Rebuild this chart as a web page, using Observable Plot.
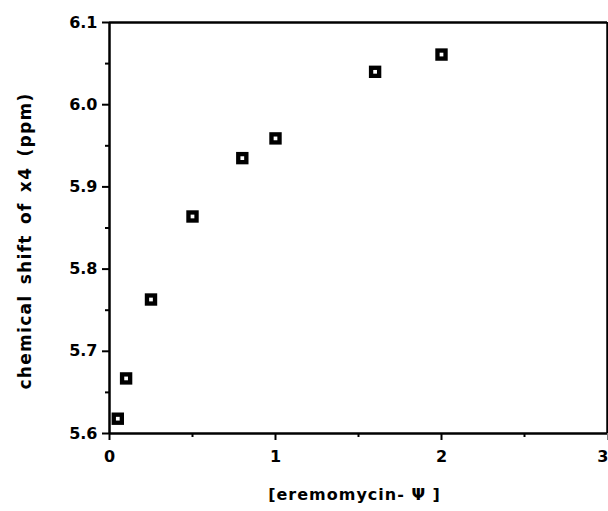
<!DOCTYPE html>
<html>
<head>
<meta charset="utf-8">
<script src="https://cdn.jsdelivr.net/npm/d3@7"></script>
<script src="https://cdn.jsdelivr.net/npm/@observablehq/plot@0.6"></script>
<style>
  html, body { margin: 0; padding: 0; background: #fff; }
  svg { display: block; }
  .ylab text { letter-spacing: 1.3px; word-spacing: 3px; }
  .xlab text { letter-spacing: 1px; }
</style>
</head>
<body>
<div id="chart"></div>
<script>
const concentration = [0.05, 0.10, 0.25, 0.50, 0.80, 1.00, 1.60, 2.00];
const chemicalShift = [5.618, 5.667, 5.763, 5.864, 5.935, 5.959, 6.040, 6.061];
const xMajorTicks = [0, 1, 2];
const xLastTick = [3];
const xMinorTicks = [0.5, 1.5, 2.5];
const yMajorTicks = [5.6, 5.7, 5.8, 5.9, 6.0, 6.1];
const yMinorTicks = [5.65, 5.75, 5.85, 5.95, 6.05];
const xLabel = "[eremomycin- \u03A8 ]";
const yLabel = "chemical shift of x4 (ppm)";

const data = concentration.map((c, i) => ({x: c, y: chemicalShift[i]}));
const font = "'DejaVu Sans', Verdana, sans-serif";

const chart = Plot.plot({
  width: 608,
  height: 511,
  marginLeft: 109,
  marginRight: 1,
  marginTop: 22,
  marginBottom: 78,
  style: {fontFamily: font, fontSize: "16px", fontWeight: "bold", color: "#000", background: "#fff"},
  x: {domain: [0, 3]},
  y: {domain: [5.6, 6.1]},
  marks: [
    Plot.ruleX([0, 3], {stroke: "#000", strokeWidth: 2.5}),
    Plot.ruleY([5.6, 6.1], {stroke: "#000", strokeWidth: 2.5}),
    Plot.axisX({ticks: xMajorTicks, tickSize: 7, tickPadding: 10, strokeWidth: 2, tickFormat: d => String(d), label: null}),
    Plot.axisX({ticks: xLastTick, tickSize: 7, tickPadding: 10, strokeWidth: 2, tickFormat: d => String(d), textAnchor: "end", dx: 1, label: null}),
    Plot.axisX({ticks: xMinorTicks, tickSize: 4, strokeWidth: 2, tickFormat: () => "", label: null}),
    Plot.axisY({ticks: yMajorTicks, tickSize: 7, tickPadding: 5, strokeWidth: 2, tickFormat: d => d.toFixed(1), label: null}),
    Plot.axisY({ticks: yMinorTicks, tickSize: 4, strokeWidth: 2, tickFormat: () => "", label: null}),
    Plot.text([xLabel], {frameAnchor: "bottom", dx: -4, dy: 66, text: d => d, fontSize: 16, fontWeight: "bold", className: "xlab"}),
    Plot.text([yLabel], {frameAnchor: "left", textAnchor: "middle", dx: -84, dy: 13, rotate: -90, text: d => d, fontSize: 17, fontWeight: "bold", className: "ylab"}),
    Plot.dot(data, {x: "x", y: "y", symbol: "square", r: 7, fill: "#000", stroke: "none"}),
    Plot.dot(data, {x: "x", y: "y", symbol: "square", r: 2.1, fill: "#fff", stroke: "none"})
  ]
});
document.getElementById("chart").appendChild(chart);
</script>
</body>
</html>
